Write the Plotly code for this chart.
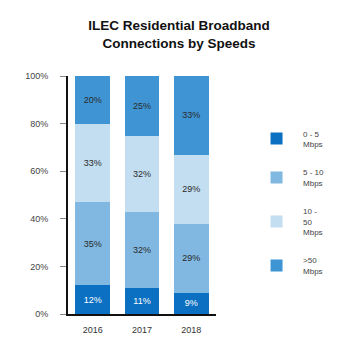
import plotly.graph_objects as go

years = ["2016", "2017", "2018"]
series_names = ["0 - 5<br>Mbps", "5 - 10<br>Mbps", "10 -<br>50<br>Mbps", ">50<br>Mbps"]
s_0_5 = [12, 11, 9]
s_5_10 = [35, 32, 29]
s_10_50 = [33, 32, 29]
s_50p = [20, 25, 33]
colors = ["#0b70c1", "#80b8e1", "#c3def1", "#3f95d4"]
text_colors = ["#ffffff", "#2a2a2a", "#2a2a2a", "#2a2a2a"]
y_ticks = [0, 20, 40, 60, 80, 100]
y_ticklabels = ["0%", "20%", "40%", "60%", "80%", "100%"]

fig = go.Figure()
for i, (name, vals) in enumerate(zip(series_names, [s_0_5, s_5_10, s_10_50, s_50p])):
    fig.add_trace(go.Bar(
        x=years, y=vals, name=name, marker_color=colors[i], marker_line_width=0,
        text=[f"{v}%" for v in vals], textposition="inside", insidetextanchor="middle",
        textfont=dict(color=text_colors[i], size=9, family="Liberation Sans, Arial"),
        legendgroup=f"g{i}",
    ))

fig.update_layout(
    barmode="stack", bargap=0.3,
    width=360, height=360,
    margin=dict(l=60, r=152, t=68, b=54),
    plot_bgcolor="white", paper_bgcolor="white",
    font=dict(family="Liberation Sans, Arial", size=9, color="#333333"),
    title=dict(text="<b>ILEC Residential Broadband<br>Connections by Speeds</b>",
               x=0.475, xanchor="center", y=0.938, yanchor="middle",
               font=dict(size=13.5, color="#111111")),
    showlegend=True,
    legend=dict(x=1.23, xanchor="left", y=0.808, yanchor="top",
                traceorder="grouped", tracegroupgap=15,
                font=dict(size=8, color="#444444"), itemwidth=43),
    xaxis=dict(showline=True, linecolor="#111111", linewidth=2, ticks="",
               ticklabelstandoff=6,
               tickfont=dict(size=9, color="#333333"), range=[-0.5, 2.5]),
    yaxis=dict(range=[0, 100], tickvals=y_ticks, ticktext=y_ticklabels,
               showgrid=False, zeroline=False, showline=True, linecolor="#111111",
               linewidth=2, ticks="outside", ticklen=6, tickcolor="#888888",
               ticklabelstandoff=10,
               tickfont=dict(size=9, color="#444444")),
)
fig.write_html("out.html")
